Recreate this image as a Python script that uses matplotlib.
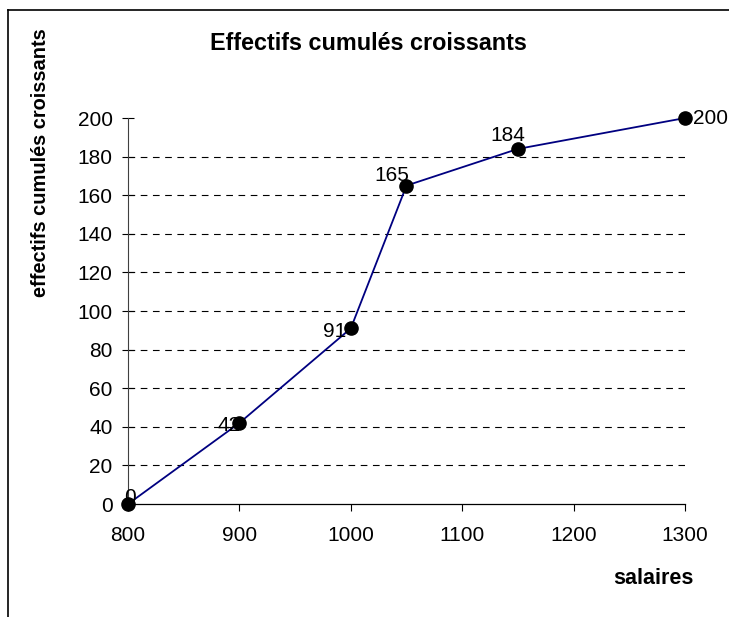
import matplotlib
matplotlib.use("Agg")
import matplotlib.pyplot as plt
from matplotlib.lines import Line2D

# donnees
salaires = [800, 900, 1000, 1050, 1150, 1300]
effectifs = [0, 42, 91, 165, 184, 200]
x_ticks = [800, 900, 1000, 1100, 1200, 1300]
y_ticks = list(range(0, 201, 20))

# decalage des etiquettes (en points) a cote de chaque point
label_offsets = [(1.5, 5, "center", "center"), (0.7, -2, "right", "center"),
                 (-3, -2.5, "right", "center"), (2, 7.5, "right", "center"),
                 (5, 10, "right", "center"), (6, 0, "left", "center")]

plt.rcParams["font.family"] = ["Liberation Sans", "DejaVu Sans"]

fig = plt.figure(figsize=(7.29, 6.17), dpi=100)
ax = fig.add_axes([0.1756, 0.1831, 0.764, 0.6256])

ax.plot(salaires, effectifs, color="#000080", linewidth=1.3, marker="o",
        markersize=9.5, markerfacecolor="black", markeredgecolor="black",
        zorder=3, clip_on=False)

for xv, yv, (dx, dy, ha, va) in zip(salaires, effectifs, label_offsets):
    ax.annotate(str(yv), (xv, yv), xytext=(dx, dy), textcoords="offset points",
                ha=ha, va=va, fontsize=15, annotation_clip=False, zorder=4)

ax.set_xlim(800, 1300)
ax.set_ylim(0, 200)
ax.set_xticks(x_ticks)
ax.set_yticks(y_ticks)
ax.tick_params(axis="both", labelsize=15, width=0.8)
ax.tick_params(axis="y", direction="inout", length=8, pad=7)
ax.tick_params(axis="x", direction="out", length=5, pad=11)

for yv in y_ticks[1:-1]:
    ax.axhline(yv, color="black", linewidth=0.8, linestyle=(0, (6, 5)), zorder=1)

for side in ["top", "right"]:
    ax.spines[side].set_visible(False)
ax.spines["left"].set_color("#404040")
ax.spines["bottom"].set_color("black")
ax.spines["left"].set_linewidth(0.8)
ax.spines["bottom"].set_linewidth(0.9)

fig.text(0.506, 0.929, "Effectifs cumulés croissants", ha="center", va="center",
         fontsize=16.8, fontweight="bold")
fig.text(0.055, 0.737, "effectifs cumulés croissants", ha="center", va="center",
         rotation=90, fontsize=14.4, fontweight="bold")
fig.text(0.896, 0.063, "salaires", ha="center", va="center",
         fontsize=15.5, fontweight="bold")

# cadre du graphique (haut et gauche visibles)
fig.add_artist(Line2D([0.011, 1.0], [0.984, 0.984], color="black", linewidth=1.2))
fig.add_artist(Line2D([0.011, 0.011], [0.0, 0.984], color="black", linewidth=1.2))

fig.savefig("out.png", dpi=100)
